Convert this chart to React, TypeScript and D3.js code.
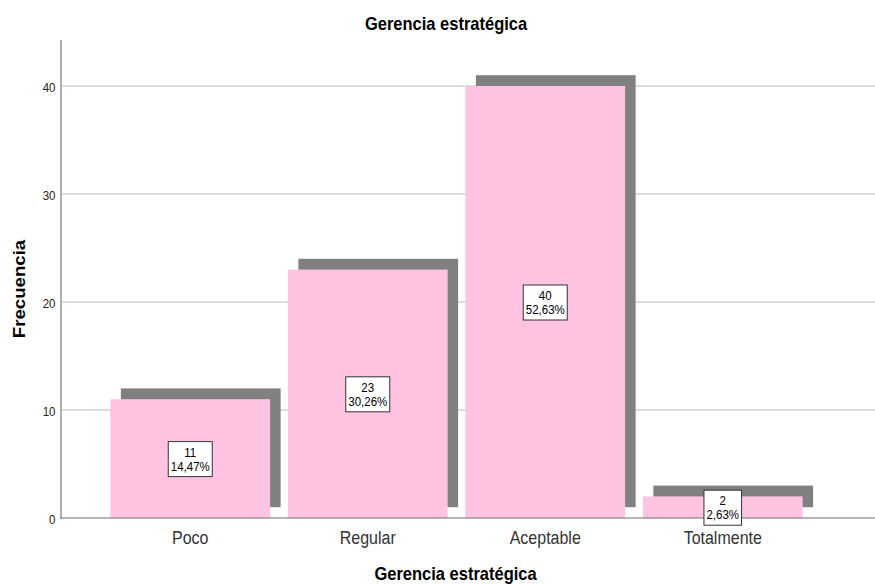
import React from "react";
import * as d3 from "d3";

// Frequencies of "Gerencia estratégica"
const categories = ["Poco", "Regular", "Aceptable", "Totalmente"];
const counts = [11, 23, 40, 2];
const yTicks = [0, 10, 20, 30, 40];

const W = 875;
const H = 585;
const STRETCH = 1.13; // vertical stretch applied to all text
const FONT = "'Liberation Sans', Arial, sans-serif";

const total = d3.sum(counts);
const pctFmt = (v: number) => (v * 100 / total).toFixed(2).replace(".", ",") + "%";

let ctx: CanvasRenderingContext2D | null = null;
function measure(text: string, size: number, weight = "normal") {
  if (!ctx) ctx = document.createElement("canvas").getContext("2d");
  if (!ctx) return text.length * size * 0.55;
  ctx.font = `${weight} ${size}px ${FONT}`;
  return ctx.measureText(text).width;
}

function T({ x, y, rotate, children, ...rest }: any) {
  const tr = `translate(${x},${y}) scale(1,${STRETCH})` + (rotate ? ` rotate(${rotate})` : "");
  return (
    <text transform={tr} fontFamily={FONT} {...rest}>
      {children}
    </text>
  );
}

export default function App() {
  const x = d3.scaleBand<string>().domain(categories).range([101.5, 811.5]).paddingInner(0.1).paddingOuter(0.05);
  const y = d3.scaleLinear().domain([0, 44.26]).range([518, 40]);
  const bw = x.bandwidth();
  const shadowDx = 10.5;
  const labelSize = 11.5;

  return (
    <svg width={W} height={H} style={{ position: "absolute", left: 0, top: 0, background: "#fff" }}>
      {/* grid lines */}
      {yTicks.filter((t) => t > 0).map((t) => (
        <line key={t} x1={62} x2={875} y1={y(t)} y2={y(t)} stroke="#d2d2d2" strokeWidth={1.3} />
      ))}

      {/* shadows */}
      {categories.map((c, i) => (
        <rect
          key={"s" + c}
          x={(x(c) as number) + shadowDx}
          y={y(counts[i] + 1)}
          width={bw}
          height={y(1) - y(counts[i] + 1)}
          fill="#808080"
        />
      ))}

      {/* bars */}
      {categories.map((c, i) => (
        <rect
          key={"b" + c}
          x={x(c) as number}
          y={y(counts[i])}
          width={bw}
          height={y(0) - y(counts[i])}
          fill="#ffc3e2"
        />
      ))}

      {/* axes */}
      <line x1={61} x2={61} y1={40} y2={518.5} stroke="#a8a8a8" strokeWidth={1.8} />
      <line x1={60} x2={875} y1={518} y2={518} stroke="#6e6e6e" strokeWidth={1.2} />

      {/* y tick labels */}
      {yTicks.map((t) => (
        <T key={"t" + t} x={55.5} y={y(t) + 6} textAnchor="end" fontSize={11.5} fill="#222">
          {t}
        </T>
      ))}

      {/* category labels */}
      {categories.map((c) => (
        <T key={"c" + c} x={(x(c) as number) + bw / 2} y={544} textAnchor="middle" fontSize={16} fill="#333">
          {c}
        </T>
      ))}

      {/* value labels */}
      {categories.map((c, i) => {
        const cx = (x(c) as number) + bw / 2;
        const cy = (y(counts[i]) + y(0)) / 2 + 0.5;
        const l1 = String(counts[i]);
        const l2 = pctFmt(counts[i]);
        const tw = Math.max(measure(l1, labelSize), measure(l2, labelSize));
        const bwid = tw + 5;
        return (
          <g key={"l" + c}>
            <rect x={cx - bwid / 2} y={cy - 17.5} width={bwid} height={35} fill="#fff" stroke="#333" strokeWidth={1} />
            <T x={cx} y={cy - 2.5} textAnchor="middle" fontSize={labelSize} fill="#000">
              {l1}
            </T>
            <T x={cx} y={cy + 11.5} textAnchor="middle" fontSize={labelSize} fill="#000">
              {l2}
            </T>
          </g>
        );
      })}

      {/* titles */}
      <T x={446} y={30} textAnchor="middle" fontSize={16.5} fontWeight="bold" fill="#000">
        Gerencia estratégica
      </T>
      <T x={455.5} y={580} textAnchor="middle" fontSize={16.5} fontWeight="bold" fill="#000">
        Gerencia estratégica
      </T>
      <T x={24.5} y={289} rotate={-90} textAnchor="middle" fontSize={16.5} fontWeight="bold" fill="#000">
        Frecuencia
      </T>
    </svg>
  );
}
